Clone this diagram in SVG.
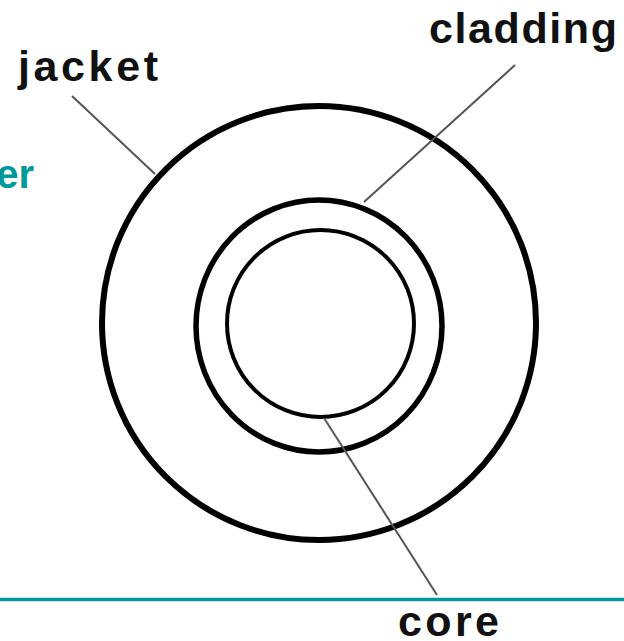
<svg xmlns="http://www.w3.org/2000/svg" width="624" height="641" viewBox="0 0 624 641">
  <style>
    .ring { fill: none; stroke: #000; }
    .lbl { font-family: "Liberation Sans", Arial, sans-serif; font-weight: bold; font-size: 43px; fill: #111; }
    .lead { stroke: #555; stroke-width: 2; fill: none; }
  </style>
  <rect x="0" y="0" width="624" height="641" fill="#fff"/>
  <g id="title">
    <text x="34" y="188" text-anchor="end" style="font-family:'Liberation Sans', Arial, sans-serif; font-weight:bold; font-size:40px; fill:#009999;">er</text>
    <line x1="0" y1="599.5" x2="624" y2="599.5" stroke="#009999" stroke-width="3.5"/>
  </g>
  <g id="jacket">
    <circle class="ring" cx="319" cy="323" r="217" stroke-width="6"/>
    <text class="lbl" x="18" y="81" textLength="140" lengthAdjust="spacing">jacket</text>
  </g>
  <g id="cladding">
    <ellipse class="ring" cx="319" cy="326" rx="123" ry="126" stroke-width="5.5"/>
    <text class="lbl" x="429" y="43" textLength="188" lengthAdjust="spacing">cladding</text>
  </g>
  <g id="core">
    <circle class="ring" cx="320.5" cy="323.5" r="93.5" stroke-width="4"/>
    <text class="lbl" x="398" y="636" textLength="101" lengthAdjust="spacing">core</text>
  </g>
  <g id="connectors">
    <line class="lead" x1="72" y1="96" x2="155" y2="174"/>
    <line class="lead" x1="515" y1="65" x2="364" y2="202"/>
    <line class="lead" x1="324" y1="418" x2="437" y2="595"/>
  </g>
</svg>
